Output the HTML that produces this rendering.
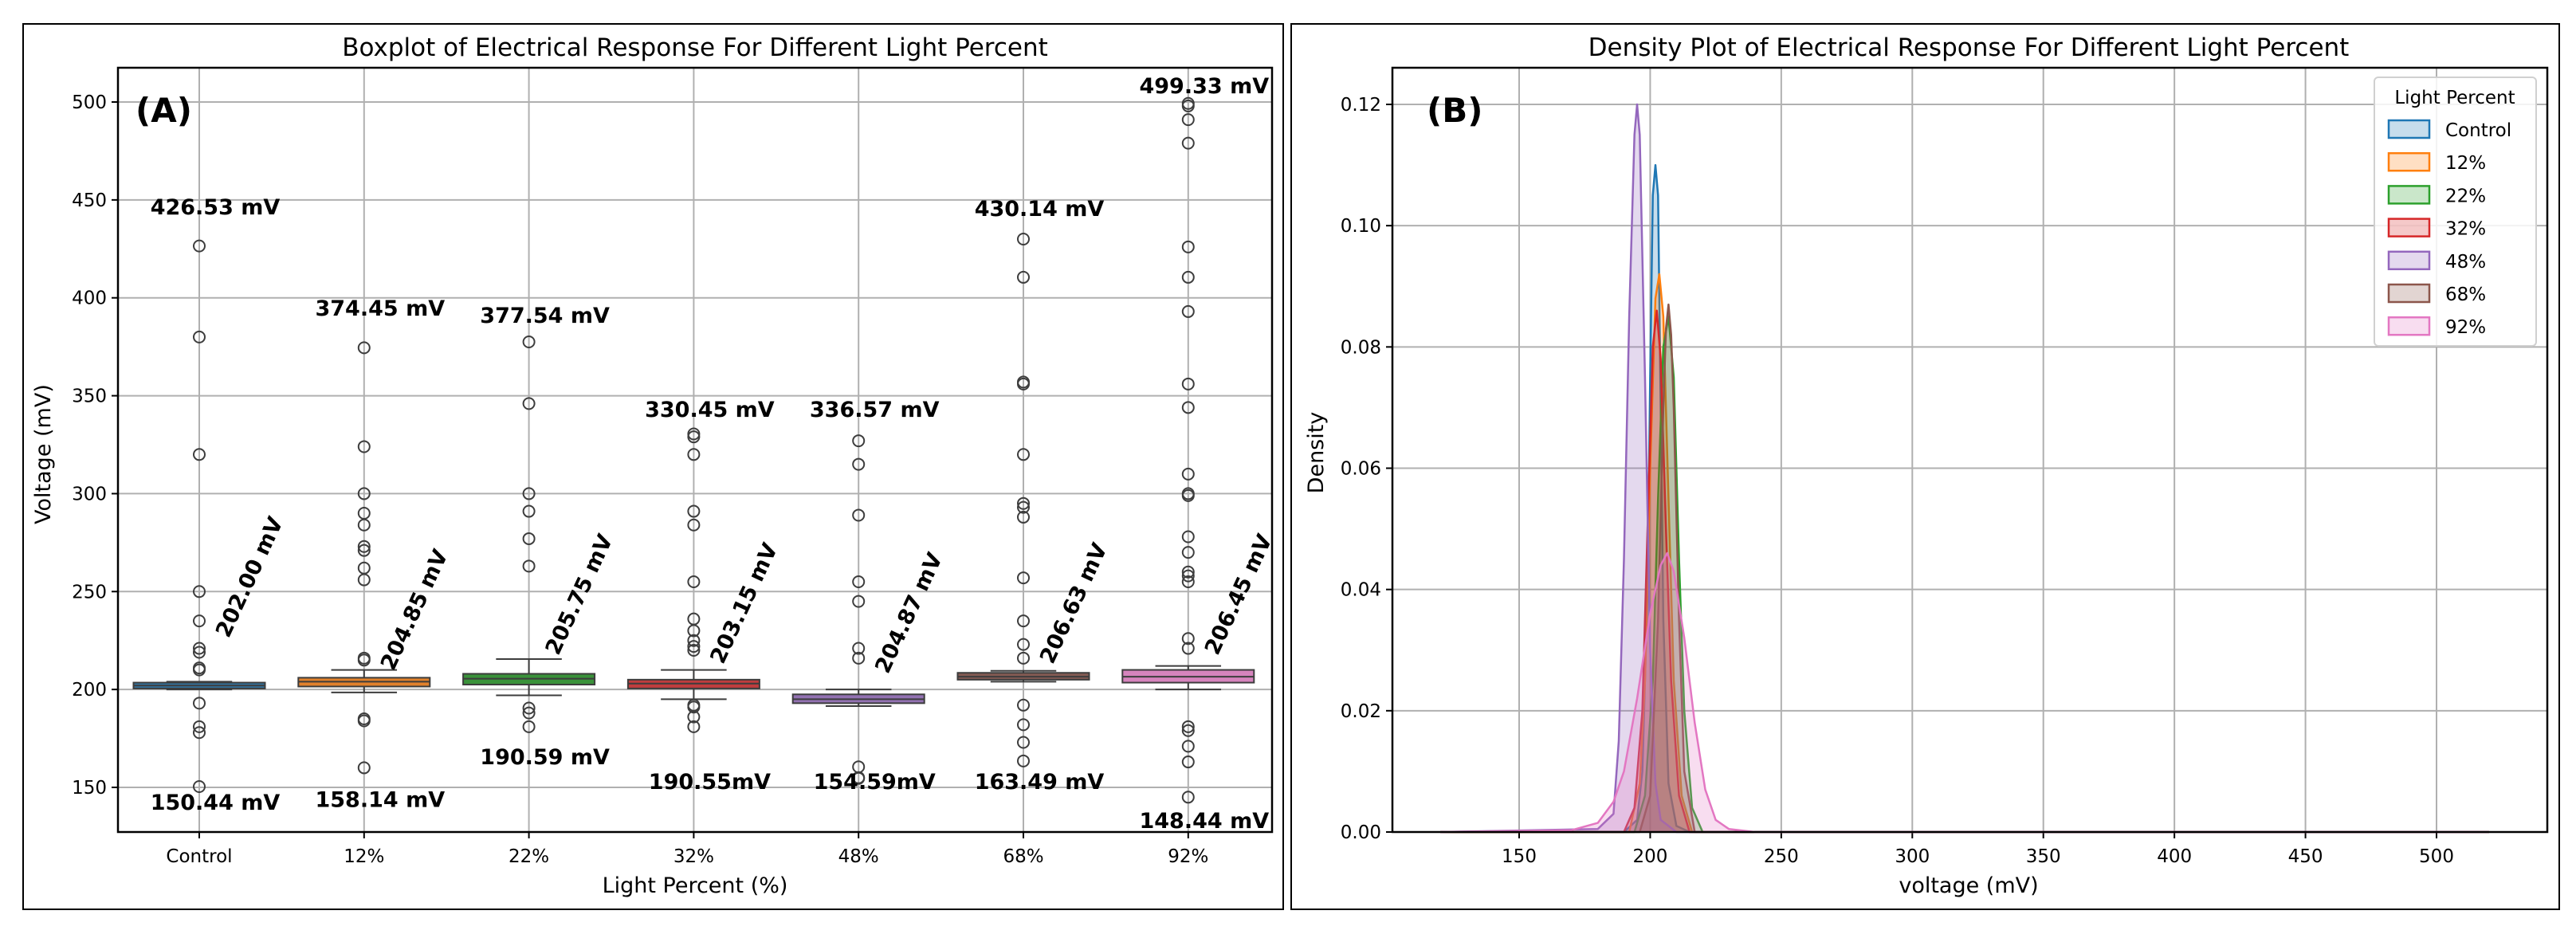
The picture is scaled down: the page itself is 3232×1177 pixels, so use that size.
<!DOCTYPE html>
<html><head><meta charset="utf-8">
<style>
html,body{margin:0;padding:0;background:#fff;}
svg{display:block;font-family:"DejaVu Sans","Liberation Sans",sans-serif;}
</style></head>
<body>
<svg id="root" width="3232" height="1177" viewBox="0 0 3232 1177" xmlns="http://www.w3.org/2000/svg">
<rect x="0" y="0" width="3232" height="1177" fill="#fff"/>
<rect x="29" y="30" width="1581" height="1111" fill="none" stroke="#000" stroke-width="2"/>
<rect x="1620" y="30" width="1591" height="1111" fill="none" stroke="#000" stroke-width="2"/>
<g id="pa"></g>
<g id="pb"></g>
</svg>
<script>
// ---- Boxplot data ----
const categories = ["Control","12%","22%","32%","48%","68%","92%"];
const q1 = [200.5,201.5,202.5,200.5,193,205,203.5];
const medians = [202,204,205.5,203,195,206.5,206.5];
const q3 = [203.5,206,208,205,197.5,208.5,210];
const whiskLow = [200,198.5,197,195,191.5,204,200];
const whiskHigh = [204,210,215.5,210,200,209.5,212];
const outliers = [
 [426.5,380,320,250,235,221,219,211,210,193,181,178,150.4],
 [374.5,324,300,290,284,273,271,262,256,216,215,185,184,160],
 [377.5,346,300,291,277,263,190.5,188,181],
 [330.5,329,320,291,284,255,236,230,225,222,220,192,191,186,181],
 [327,315,289,255,245,221,216,160.5,155,154.6],
 [430,410.5,357,356,320,295,293,288,257,235,223,216,192,182,173,163.5],
 [499.3,498,491,479,426,410.5,393,356,344,310,300,299,278,270,260,258,255,226,221,181,179,171,163,145]
];
const maxLabels = ["426.53 mV","374.45 mV","377.54 mV","330.45 mV","336.57 mV","430.14 mV","499.33 mV"];
const minLabels = ["150.44 mV","158.14 mV","190.59 mV","190.55mV","154.59mV","163.49 mV","148.44 mV"];
const medLabels = ["202.00 mV","204.85 mV","205.75 mV","203.15 mV","204.87 mV","206.63 mV","206.45 mV"];
const maxLabelVals = [446.7,395,391.4,343.3,343.3,445.9,508.5];
const minLabelVals = [142.7,144,165.9,153.2,153.2,153.2,133.3];
const medLabelVals = [257.4,240.7,248.5,244,239.1,244,248.5];
const yTicksA = [150,200,250,300,350,400,450,500];
const boxColors = ["#3274a1","#e1812c","#3a923a","#c03d3e","#9372b2","#845b53","#d684bd"];

// ---- Density data ----
const densSeries = ["Control","12%","22%","32%","48%","68%","92%"];
const densX = [
 [120,190,195,197,199,200,201,202,203,204,205,207,210,215,520],
 [120,192,196,198,200,202,203.5,205,207,209,212,216,520],
 [120,194,198,201,203,205,207,209,211,213,216,220,520],
 [120,190,194,197,199,201,202.5,204,206,208,211,215,520],
 [120,180,186,188,190,192,194,195,196,198,200,202,204,210,520],
 [120,196,200,203,205,206,207,208,209,211,213,217,520],
 [120,170,180,186,190,195,200,204,206.5,209,213,217,221,225,230,240,520]
];
const densY = [
 [0,0,0.002,0.01,0.04,0.075,0.105,0.110,0.105,0.07,0.035,0.008,0.001,0,0],
 [0,0,0.008,0.025,0.06,0.088,0.092,0.085,0.055,0.025,0.006,0,0],
 [0,0,0.006,0.025,0.055,0.08,0.085,0.075,0.045,0.02,0.004,0,0],
 [0,0,0.004,0.02,0.05,0.08,0.086,0.078,0.05,0.025,0.006,0,0],
 [0,0.0005,0.003,0.015,0.045,0.085,0.115,0.120,0.115,0.075,0.03,0.008,0.002,0,0],
 [0,0,0.006,0.035,0.07,0.083,0.087,0.082,0.07,0.035,0.01,0,0],
 [0,0.0003,0.0015,0.005,0.01,0.022,0.036,0.044,0.046,0.043,0.032,0.018,0.007,0.002,0.0005,0,0]
];
const densColors = ["#1f77b4","#ff7f0e","#2ca02c","#d62728","#9467bd","#8c564b","#e377c2"];
const xTicksB = [150,200,250,300,350,400,450,500];
const yTicksB = [0,0.02,0.04,0.06,0.08,0.10,0.12];

const NS="http://www.w3.org/2000/svg";
function mk(parent,tag,attrs,text){const e=document.createElementNS(NS,tag);for(const k in attrs)e.setAttribute(k,attrs[k]);if(text!==undefined)e.textContent=text;parent.appendChild(e);return e;}

// ===== Panel A =====
const pa=document.getElementById('pa');
const A={l:148,r:1596,t:85,b:1044};
const yA=v=>128+(500-v)*(860/350);
const xA=i=>250+i*206.8;
const bw=165;
mk(pa,'rect',{x:A.l,y:A.t,width:A.r-A.l,height:A.b-A.t,fill:'#fff'});
yTicksA.forEach(v=>{
 const g=mk(pa,'line',{x1:A.l,x2:A.r,y1:yA(v),y2:yA(v),stroke:'#b0b0b0','stroke-width':2});
 
 
 mk(pa,'line',{x1:A.l-8,x2:A.l,y1:yA(v),y2:yA(v),stroke:'#000','stroke-width':2});
 const t=mk(pa,'text',{x:A.l-14,y:yA(v)+8,'text-anchor':'end','font-size':23},String(v));
 
 
});
categories.forEach((c,i)=>{
 const x=xA(i);
 const gl=mk(pa,'line',{x1:x,x2:x,y1:A.t,y2:A.b,stroke:'#b0b0b0','stroke-width':2});
 
 
 mk(pa,'line',{x1:x,x2:x,y1:A.b,y2:A.b+8,stroke:'#000','stroke-width':2});
 const t=mk(pa,'text',{x:x,y:A.b+38,'text-anchor':'middle','font-size':23},c);
 
 
});
categories.forEach((c,i)=>{
 const x=xA(i);
 const g=mk(pa,'g',{});
 
 
 mk(g,'line',{x1:x,x2:x,y1:yA(whiskHigh[i]),y2:yA(q3[i]),stroke:'#3d3d3d','stroke-width':2});
 mk(g,'line',{x1:x,x2:x,y1:yA(q1[i]),y2:yA(whiskLow[i]),stroke:'#3d3d3d','stroke-width':2});
 mk(g,'line',{x1:x-bw/4,x2:x+bw/4,y1:yA(whiskHigh[i]),y2:yA(whiskHigh[i]),stroke:'#3d3d3d','stroke-width':2});
 mk(g,'line',{x1:x-bw/4,x2:x+bw/4,y1:yA(whiskLow[i]),y2:yA(whiskLow[i]),stroke:'#3d3d3d','stroke-width':2});
 mk(g,'rect',{x:x-bw/2,y:yA(q3[i]),width:bw,height:Math.max(2,yA(q1[i])-yA(q3[i])),fill:boxColors[i],stroke:'#3d3d3d','stroke-width':2});
 mk(g,'line',{x1:x-bw/2,x2:x+bw/2,y1:yA(medians[i]),y2:yA(medians[i]),stroke:'#3d3d3d','stroke-width':2});
 outliers[i].forEach(v=>{
  const o=mk(g,'circle',{cx:x,cy:yA(v),r:7,fill:'none',stroke:'#3d3d3d','stroke-width':2});
  
  
 });
 const t1=mk(pa,'text',{x:x+20,y:yA(maxLabelVals[i])+10,'text-anchor':'middle','font-size':27,'font-weight':'bold'},maxLabels[i]);
 
 
 const t2=mk(pa,'text',{x:x+20,y:yA(minLabelVals[i])+10,'text-anchor':'middle','font-size':27,'font-weight':'bold'},minLabels[i]);
 
 
 const mx=x+63, my=yA(medLabelVals[i]);
 const t3=mk(pa,'text',{x:mx,y:my+9,'text-anchor':'middle','font-size':27,'font-weight':'bold',transform:`rotate(-65 ${mx} ${my})`},medLabels[i]);
 
 
});
mk(pa,'rect',{x:A.l,y:A.t,width:A.r-A.l,height:A.b-A.t,fill:'none',stroke:'#000','stroke-width':2.5});
let tt=mk(pa,'text',{x:872,y:70,'text-anchor':'middle','font-size':31},'Boxplot of Electrical Response For Different Light Percent');

tt=mk(pa,'text',{x:170,y:153,'font-size':42,'font-weight':'bold'},'(A)');

tt=mk(pa,'text',{x:872,y:1120,'text-anchor':'middle','font-size':27},'Light Percent (%)');

tt=mk(pa,'text',{x:63,y:570,'text-anchor':'middle','font-size':27,transform:'rotate(-90 63 570)'},'Voltage (mV)');


// ===== Panel B =====
const pb=document.getElementById('pb');
const B={l:1747,r:3196,t:85,b:1044};
const xB=v=>1906+(v-150)*(1151/350);
const yB=v=>1044-v*(913/0.12);
yTicksB.forEach(v=>{
 const g=mk(pb,'line',{x1:B.l,x2:B.r,y1:yB(v),y2:yB(v),stroke:'#b0b0b0','stroke-width':2});
 
 
 mk(pb,'line',{x1:B.l-8,x2:B.l,y1:yB(v),y2:yB(v),stroke:'#000','stroke-width':2});
 const t=mk(pb,'text',{x:B.l-14,y:yB(v)+8,'text-anchor':'end','font-size':23},v.toFixed(2));
 
 
});
xTicksB.forEach(v=>{
 const g=mk(pb,'line',{x1:xB(v),x2:xB(v),y1:B.t,y2:B.b,stroke:'#b0b0b0','stroke-width':2});
 
 
 mk(pb,'line',{x1:xB(v),x2:xB(v),y1:B.b,y2:B.b+8,stroke:'#000','stroke-width':2});
 const t=mk(pb,'text',{x:xB(v),y:B.b+38,'text-anchor':'middle','font-size':23},String(v));
 
 
});
densSeries.forEach((s,i)=>{
 let d='';
 densX[i].forEach((xv,j)=>{d+=(j?'L':'M')+xB(xv).toFixed(1)+' '+yB(densY[i][j]).toFixed(1)+' ';});
 const area=d+'L'+xB(densX[i][densX[i].length-1]).toFixed(1)+' '+yB(0)+' L'+xB(densX[i][0]).toFixed(1)+' '+yB(0)+' Z';
 const f=mk(pb,'path',{d:area,fill:densColors[i],'fill-opacity':0.25,stroke:'none'});
 
 
 const l=mk(pb,'path',{d:d,fill:'none',stroke:densColors[i],'stroke-width':2.5,'stroke-linejoin':'round'});
 
 
});
mk(pb,'rect',{x:B.l,y:B.t,width:B.r-B.l,height:B.b-B.t,fill:'none',stroke:'#000','stroke-width':2.5});
tt=mk(pb,'text',{x:2470,y:70,'text-anchor':'middle','font-size':31},'Density Plot of Electrical Response For Different Light Percent');

tt=mk(pb,'text',{x:1790,y:153,'font-size':42,'font-weight':'bold'},'(B)');

tt=mk(pb,'text',{x:2470,y:1120,'text-anchor':'middle','font-size':27},'voltage (mV)');

tt=mk(pb,'text',{x:1660,y:568,'text-anchor':'middle','font-size':27,transform:'rotate(-90 1660 568)'},'Density');

// legend
const lg=mk(pb,'g',{});


mk(lg,'rect',{x:2979,y:97,width:203,height:337,rx:5,fill:'#fff','fill-opacity':0.85,stroke:'#d0d0d0','stroke-width':2});
mk(lg,'text',{x:3080,y:130,'text-anchor':'middle','font-size':23},'Light Percent');
densSeries.forEach((s,i)=>{
 const y=162+i*41.2;
 const e=mk(lg,'g',{});
 
 
 mk(e,'rect',{x:2997,y:y-11,width:51,height:22,fill:densColors[i],'fill-opacity':0.25,stroke:densColors[i],'stroke-width':2.5});
 mk(e,'text',{x:3068,y:y+9,'font-size':23},s);
});
</script>
</body></html>
